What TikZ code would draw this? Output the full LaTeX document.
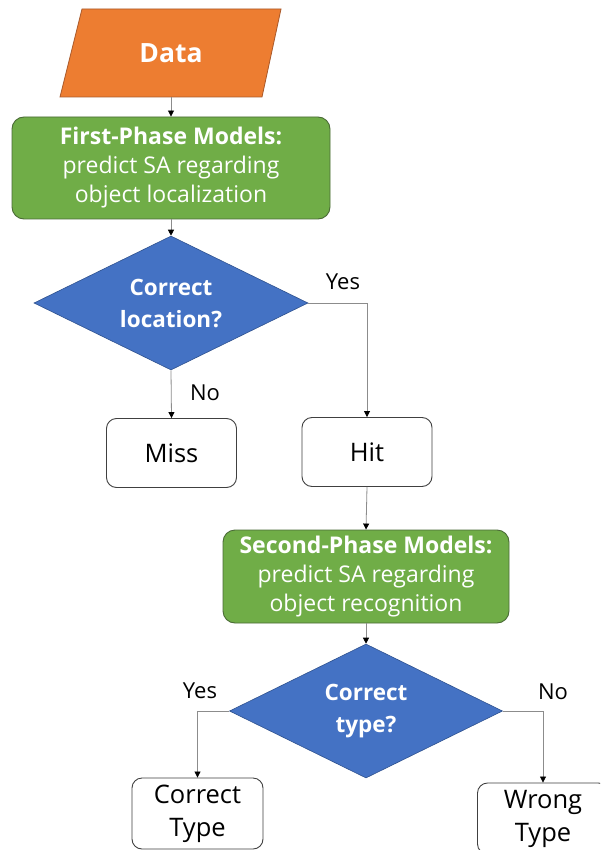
\documentclass[tikz,border=0pt]{standalone}
\usepackage{fontspec}
\setmainfont{Open Sans}
\usetikzlibrary{shapes.geometric,arrows.meta}
\definecolor{dorange}{HTML}{ED7D31}
\definecolor{dorangeline}{HTML}{A9592A}
\definecolor{mgreen}{HTML}{70AD47}
\definecolor{mgreenline}{HTML}{4A6B36}
\definecolor{mblue}{HTML}{4472C4}
\definecolor{mblueline}{HTML}{2F528F}
\definecolor{linegray}{HTML}{8C8C8C}
\begin{document}
\begin{tikzpicture}[x=1pt,y=-1pt,
  base/.style={font=\fontsize{23}{29}\selectfont, align=center, inner sep=0pt},
  greenbox/.style={base, rectangle, rounded corners=12pt, fill=mgreen, draw=mgreenline, line width=0.9pt, text=white},
  decision/.style={base, diamond, aspect=2, fill=mblue, draw=mblueline, line width=0.6pt, text=white, font=\fontsize{22.5}{32}\selectfont\bfseries},
  outbox/.style={base, rectangle, rounded corners=10pt, fill=white, draw=black!75, line width=0.9pt, font=\fontsize{25.5}{33}\selectfont, minimum width=130pt, minimum height=69pt},
  lbl/.style={base, font=\fontsize{22}{26}\selectfont},
  conn/.style={draw=linegray, line width=0.8pt, -{Triangle[width=6pt,length=6pt,black]}}
]
\useasboundingbox (0,0) rectangle (600,850);
\clip (0,0) rectangle (600,850);
\fill[white] (0,0) rectangle (600,850);

% Data parallelogram
\filldraw[fill=dorange, draw=dorangeline, line width=0.8pt] (82,9) -- (281,9) -- (262,97) -- (60,97) -- cycle;
\node[base, text=white, font=\fontsize{26.5}{30}\selectfont\bfseries, minimum width=200pt, minimum height=88pt] (data) at (171,53) {Data};

\node[greenbox, minimum width=318pt, minimum height=102pt] (g1) at (171,168)
  {\textbf{First-Phase Models:}\\predict SA regarding\\object localization};

\node[decision, minimum width=274pt, minimum height=134pt] (d1) at (171,303) {Correct\\location?};

\node[outbox] (miss) at (171.5,453) {Miss};
\node[outbox] (hit) at (367,452) {Hit};

\node[greenbox, minimum width=286pt, minimum height=93pt] (g2) at (366,576.5)
  {\textbf{Second-Phase Models:}\\predict SA regarding\\object recognition};

\node[decision, minimum width=273pt, minimum height=134pt] (d2) at (366,711) {Correct\\type?};

\node[outbox, minimum width=131pt, minimum height=71pt] (ct) at (197.5,813.5) {Correct\\Type};
\node[outbox, minimum width=131pt, minimum height=71pt] (wt) at (543,818.5) {Wrong\\Type};

% connectors
\draw[conn] (data.south) -- (g1.north);
\draw[conn] (g1.south) -- (d1.north);
\draw[conn] (d1.south) -- (miss.north);
\draw[conn] (d1.east) -| (hit.north);
\draw[conn] (hit.south) -- (g2.north);
\draw[conn] (g2.south) -- (d2.north);
\draw[conn] (d2.west) -| (ct.north);
\draw[conn] (d2.east) -| (wt.north);

% labels
\node[lbl] (lno1) at (205,393) {No};
\node[lbl] (lyes1) at (343,282) {Yes};
\node[lbl] (lyes2) at (200,691) {Yes};
\node[lbl] (lno2) at (553,692) {No};
\end{tikzpicture}
\end{document}
